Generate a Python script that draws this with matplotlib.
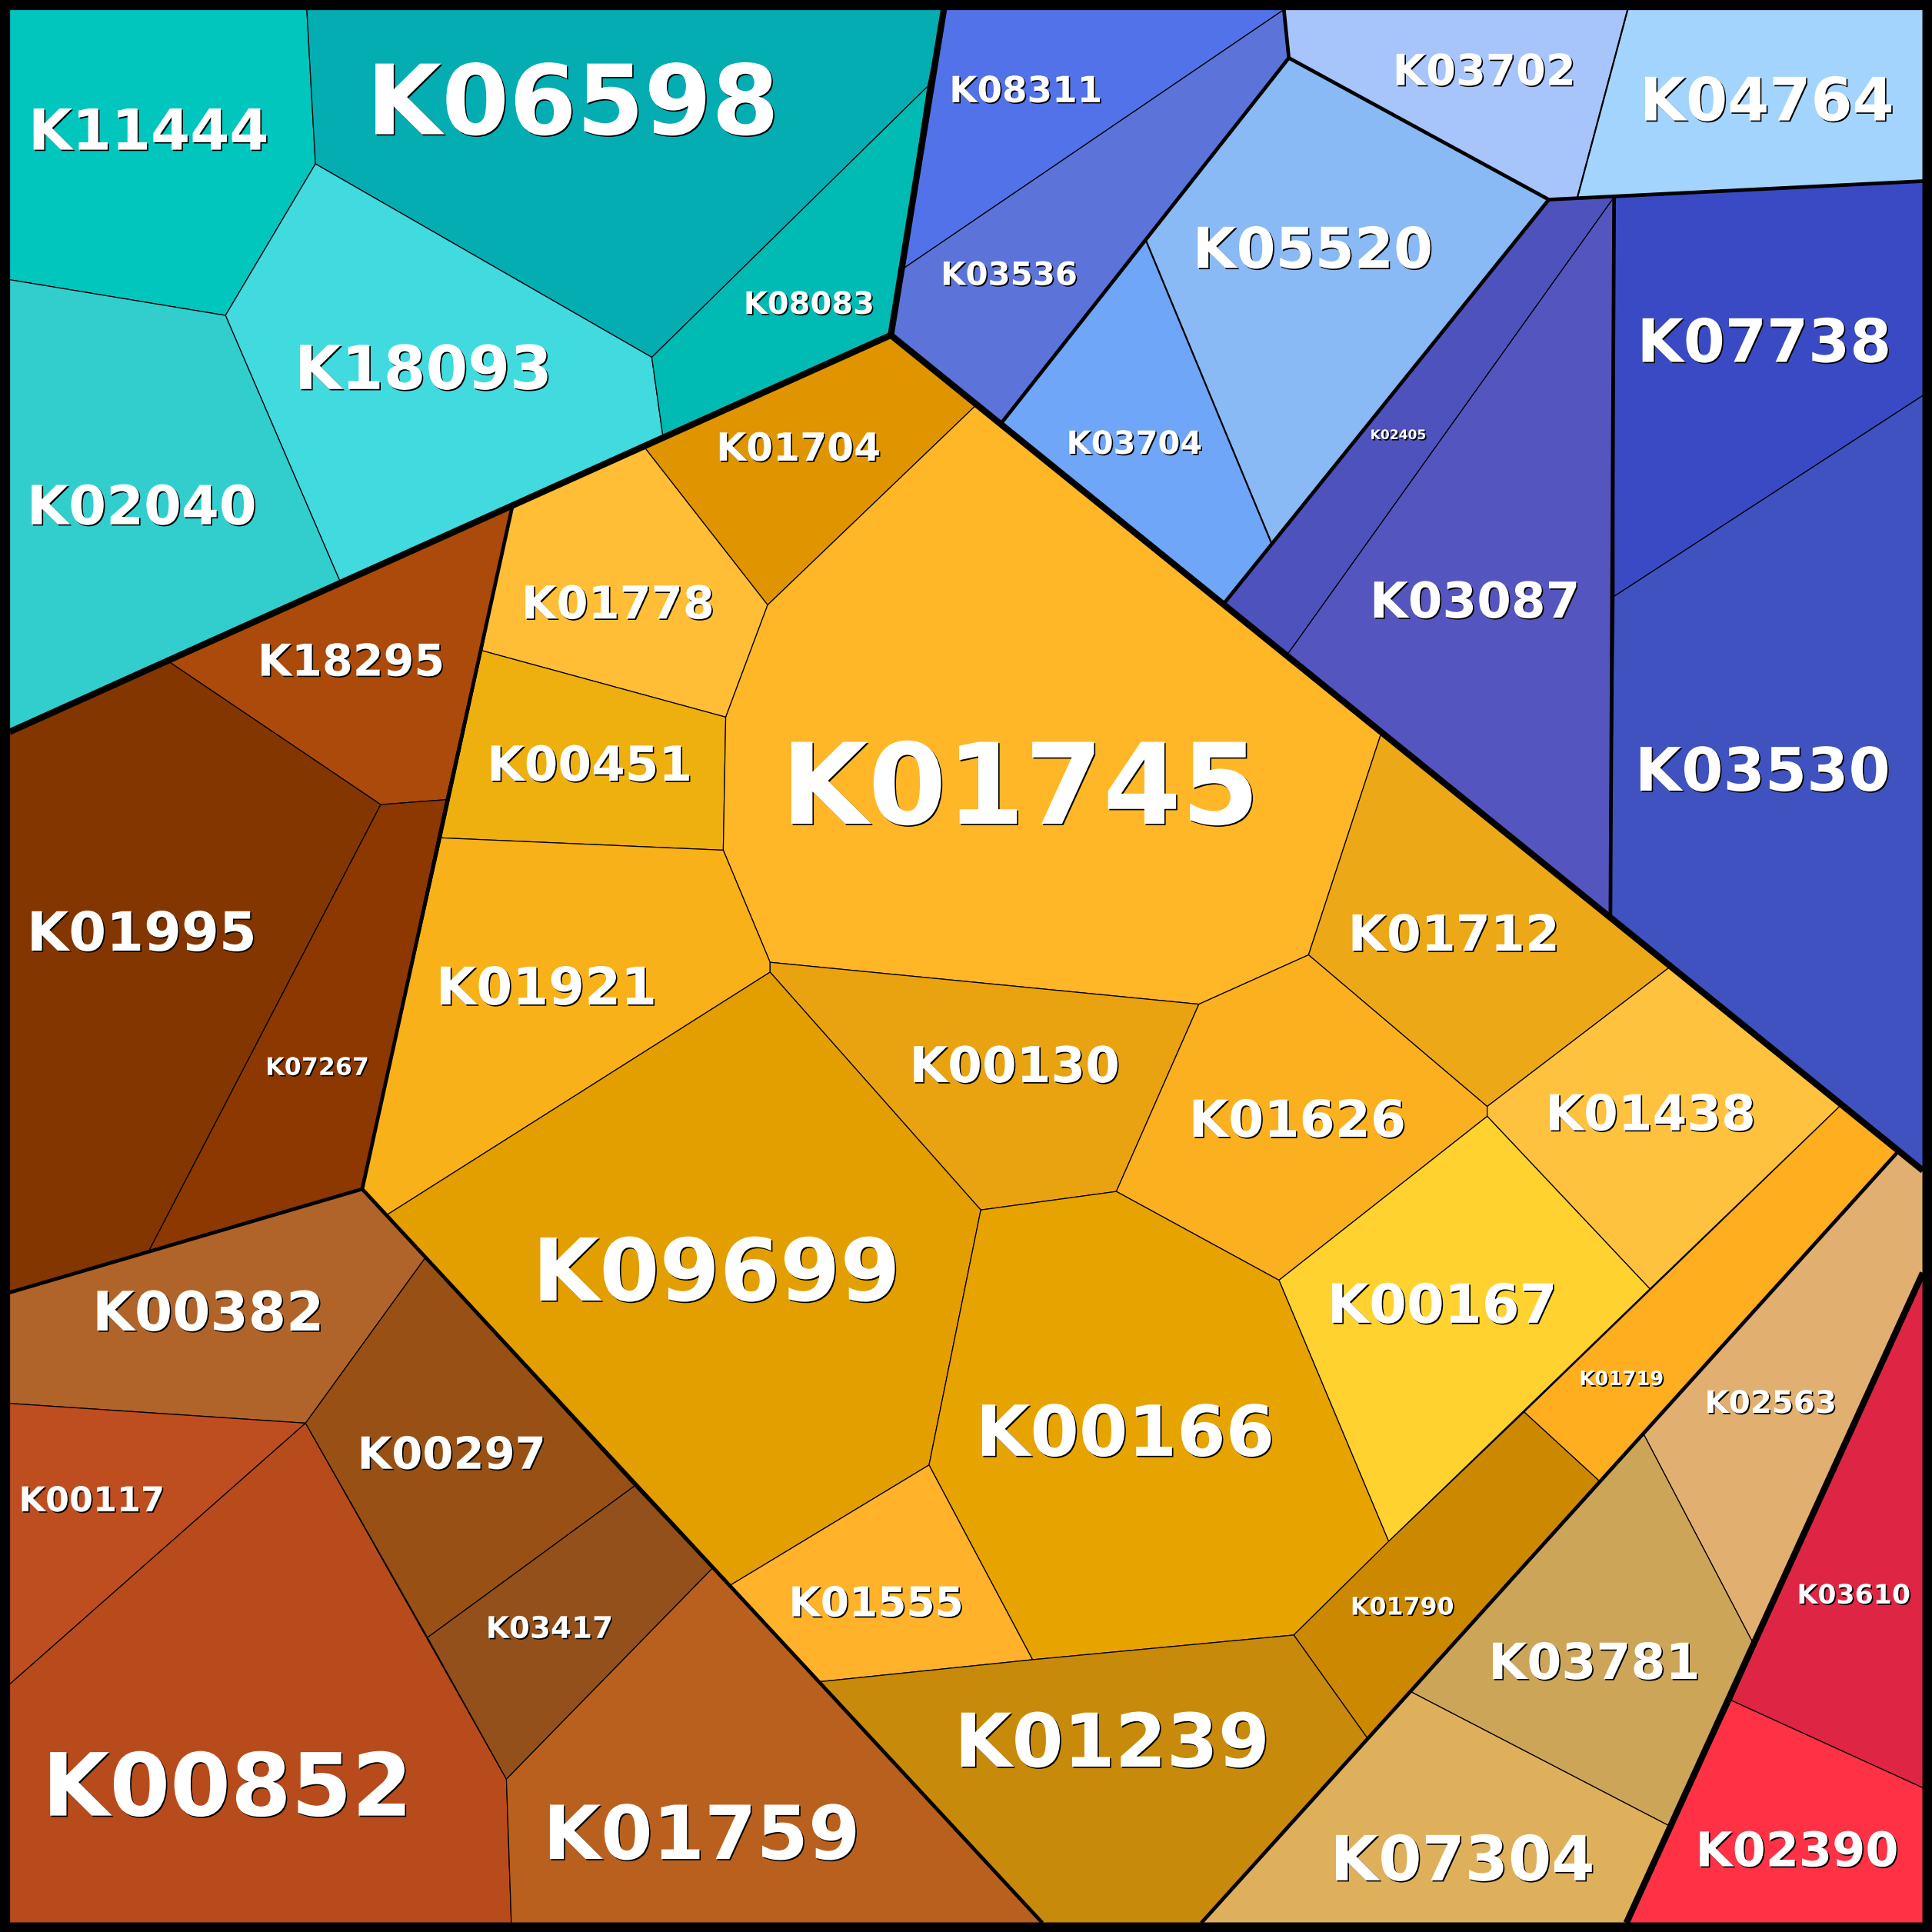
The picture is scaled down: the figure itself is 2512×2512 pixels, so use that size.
import matplotlib
matplotlib.use("Agg")
import matplotlib.pyplot as plt
import matplotlib.patheffects as pe
from matplotlib.patches import Polygon

L = 7.8
R = 1560.6

names = ["K11444", "K06598", "K18093", "K08083", "K02040",
         "K08311", "K03536", "K05520", "K03704", "K03702", "K04764",
         "K02405", "K03087", "K07738", "K03530",
         "K01704", "K01778", "K00451", "K01745", "K01921", "K00130",
         "K01712", "K01626", "K01438", "K00167", "K01719", "K09699",
         "K00166", "K01555", "K01790", "K01239",
         "K02563", "K03781", "K07304", "K03610", "K02390",
         "K18295", "K01995", "K07267", "K00382", "K00117", "K00852",
         "K00297", "K03417", "K01759"]

cells = [
    [(L, L), (249, L), (256, 133), (183, 256), (L, 227)],
    [(249, L), (766, L), (753, 70), (529, 290), (256, 133)],
    [(256, 133), (529, 290), (538, 354), (276, 472), (183, 256)],
    [(753, 70), (723, 272), (538, 354), (529, 290)],
    [(L, 227), (183, 256), (276, 472), (L, 594)],
    [(766, L), (1042, L), (733, 218), (723, 272)],
    [(1042, L), (1046, 47), (813, 343), (723, 272), (733, 218)],
    [(1046, 47), (1257, 162), (1032, 441), (930, 195)],
    [(930, 195), (1032, 441), (994, 489), (813, 343)],
    [(1042, L), (1321, L), (1280, 161), (1257, 162), (1046, 47)],
    [(1321, L), (R, L), (R, 147), (1280, 161)],
    [(1257, 162), (1310, 160), (1045, 531), (994, 489)],
    [(1310, 160), (1310, 484), (1307, 743), (1045, 531)],
    [(1310, 160), (R, 147), (R, 321), (1310, 484)],
    [(1310, 484), (R, 321), (R, 950), (1307, 743)],
    [(723, 272), (792, 329), (623, 491), (523, 363)],
    [(523, 363), (623, 491), (589, 582), (391, 528), (416, 410)],
    [(391, 528), (589, 582), (587, 690), (358, 680)],
    [(792, 329), (1121, 595), (1062, 775), (973, 815), (625, 781), (587, 690), (589, 582), (623, 491)],
    [(358, 680), (587, 690), (625, 781), (625, 789), (314, 986), (294, 965)],
    [(625, 781), (973, 815), (906, 967), (796, 982), (625, 789)],
    [(1121, 595), (1355, 785), (1207, 898), (1062, 775)],
    [(1062, 775), (1207, 898), (1207, 906), (1038, 1039), (906, 967), (973, 815)],
    [(1355, 785), (1494, 897), (1339, 1046), (1207, 906), (1207, 898)],
    [(1207, 906), (1339, 1046), (1127, 1251), (1038, 1039)],
    [(1494, 897), (1541, 934), (1298, 1202), (1237, 1146)],
    [(625, 789), (796, 982), (754, 1189), (592, 1287), (314, 986)],
    [(796, 982), (906, 967), (1038, 1039), (1127, 1251), (1050, 1327), (838, 1347), (754, 1189)],
    [(754, 1189), (838, 1347), (664, 1365), (592, 1287)],
    [(1237, 1146), (1298, 1202), (1110, 1411), (1050, 1327), (1127, 1251)],
    [(664, 1365), (838, 1347), (1050, 1327), (1110, 1411), (975, R), (846, R)],
    [(1541, 934), (R, 950), (R, 1033), (1423, 1334), (1334, 1164)],
    [(1334, 1164), (1423, 1334), (1355, 1482), (1145, 1373)],
    [(1145, 1373), (1355, 1482), (1320, R), (975, R)],
    [(R, 1033), (R, 1451), (1405, 1380)],
    [(1405, 1380), (R, 1451), (R, R), (1320, R)],
    [(416, 410), (362, 649), (309, 653), (137, 537)],
    [(L, 594), (137, 537), (309, 653), (121, 1015), (L, 1049)],
    [(309, 653), (362, 649), (294, 965), (121, 1015)],
    [(L, 1049), (294, 965), (345, 1021), (248, 1155), (L, 1139)],
    [(L, 1139), (248, 1155), (L, 1367)],
    [(L, 1367), (248, 1155), (411, 1444), (415, R), (L, R)],
    [(345, 1021), (515, 1206), (347, 1329), (248, 1155)],
    [(515, 1206), (578, 1273), (411, 1444), (347, 1329)],
    [(578, 1273), (846, R), (415, R), (411, 1444)],
]

colors = ["#00C6BE", "#03ADB1", "#40DADF", "#00BBB3", "#32CECE",
          "#5272EA", "#5C74D9", "#8ABAF5", "#6FA6F7", "#A7C4FB", "#A3D4FE",
          "#4E52BD", "#5555C0", "#3A4AC4", "#3F52C0",
          "#E09500", "#FFBE36", "#EEB00F", "#FFB627", "#F8B118", "#E9A311",
          "#ECA816", "#FBB020", "#FFC23E", "#FFD230", "#FFAE1F", "#E39E00",
          "#E7A300", "#FFB22A", "#CC8900", "#C88A0B",
          "#E1AF70", "#CDA558", "#DFB05C", "#DE2543", "#FF3145",
          "#AB4A0A", "#843600", "#8C3800", "#B06429", "#BE4D1F", "#B74B1C",
          "#985015", "#94501A", "#B9601F"]

label_x = [120.5, 465, 343.5, 656.5, 115,
           832.5, 819, 1065.5, 920.5, 1204.5, 1434,
           1135, 1197, 1432, 1430.5,
           648, 501.5, 478.5, 828, 443.5, 823.5,
           1180, 1053, 1339.5, 1170.5, 1316, 581.5,
           913, 711, 1138, 902.5,
           1437, 1294, 1187, 1504.5, 1458.5,
           285, 115, 257.5, 169, 74.5, 184.5,
           366.5, 446, 569.5]
label_y = [104, 79, 297, 245, 409,
           72, 221, 200, 358, 56, 79,
           352, 486, 275, 623,
           362, 488, 619, 634, 799, 863,
           756, 907, 902, 1057, 1118, 1029,
           1160, 1299, 1303, 1411,
           1137, 1347, 1507, 1293, 1500,
           535, 755, 865, 1063, 1216, 1447,
           1178, 1320, 1486]
label_size = [52.9, 90.8, 56.7, 28.8, 50.6,
              33.7, 30.1, 52.9, 29.9, 40.3, 56,
              12.3, 46.3, 56, 56.2,
              36.2, 42.5, 45.2, 105.3, 48.6, 46.3,
              46.6, 47.8, 46.3, 50.6, 18.6, 81,
              65.8, 38.5, 22.8, 69.4,
              29, 46.6, 58.2, 25, 44.7,
              41.2, 50.6, 22.8, 51, 32.1, 81.5,
              41.5, 28, 69.8]

# borders between the big groups
thick_lines = [
    [(L, 594), (723, 272), (766, L)],
    [(723, 272), (R, 950)],
    [(1320, R), (R, 1033)],
]
medium_lines = [
    [(416, 410), (294, 965), (846, R)],
    [(1541, 934), (975, R)],
    [(813, 343), (1046, 47), (1042, L)],
    [(1046, 47), (1257, 162), (994, 489)],
    [(1257, 162), (R, 147)],
    [(1310, 160), (1307, 743)],
    [(L, 1049), (294, 965)],
]
light_lines = [
    [(930, 195), (1032, 441)],
    [(1321, L), (1280, 161)],
]

fig = plt.figure(figsize=(25.12, 25.12), dpi=100, facecolor="black")
ax = fig.add_axes([0, 0, 1, 1])
ax.set_xlim(0, 1568)
ax.set_ylim(1568, 0)
ax.axis("off")

for pts, c in zip(cells, colors):
    ax.add_patch(Polygon(pts, closed=True, facecolor=c, edgecolor="black", linewidth=0.9))

for lines, width in [(light_lines, 1.6), (medium_lines, 3.4), (thick_lines, 6.0)]:
    for line in lines:
        ax.plot([p[0] for p in line], [p[1] for p in line], color="black", lw=width,
                solid_joinstyle="miter", solid_capstyle="butt")

shadow = [pe.withSimplePatchShadow(offset=(1.2, -1.2), shadow_rgbFace="black", alpha=1.0)]
for name, x, y, s in zip(names, label_x, label_y, label_size):
    ax.text(x, y, name, color="white", fontsize=s, fontweight="bold", family="DejaVu Sans",
            ha="center", va="center_baseline", path_effects=shadow)

fig.savefig("out.png", dpi=100, facecolor="black")
